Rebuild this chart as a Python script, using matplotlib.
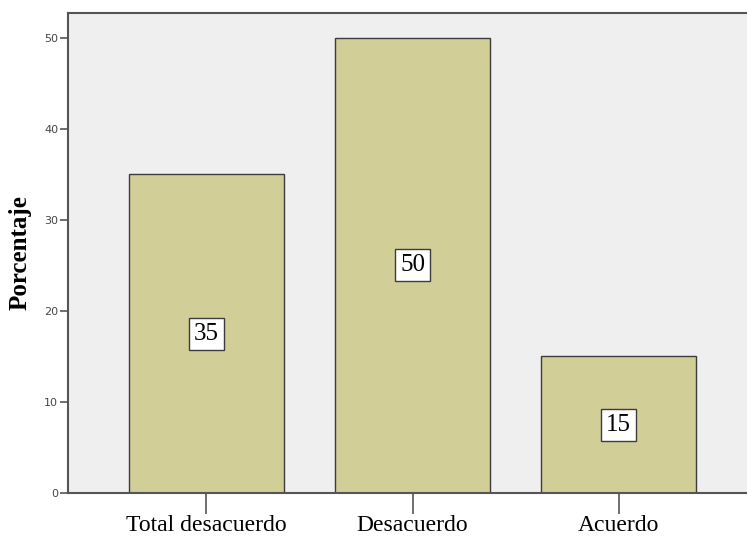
import matplotlib.pyplot as plt

categorias = ["Total desacuerdo", "Desacuerdo", "Acuerdo"]
porcentajes = [35, 50, 15]
yticks = [0, 10, 20, 30, 40, 50]

fig = plt.figure(figsize=(7.47, 5.38), dpi=100)
ax = fig.add_axes([0.091, 0.0836, 0.915, 0.8922])
ax.set_facecolor("#efefef")

x = list(range(len(categorias)))
ax.bar(x, porcentajes, width=0.752, color="#d2ce98", edgecolor="#3c3c3c", linewidth=1.0, zorder=2)

# etiquetas con el valor en el centro de cada barra
for xi, v in zip(x, porcentajes):
    ax.text(xi, v / 2, str(v), ha="center", va="center", fontsize=18,
            family="Liberation Serif", color="black", zorder=3,
            bbox=dict(boxstyle="square,pad=0.2", facecolor="white", edgecolor="#3c3c3c", linewidth=1.0))

ax.set_xlim(-0.672, 2.645)
ax.set_ylim(0, 52.7)
ax.set_xticks(x)
ax.set_xticklabels(categorias, family="Liberation Serif", fontsize=17)
ax.set_yticks(yticks)
ax.tick_params(axis="y", length=6, width=1.2, color="#555555", labelsize=8, labelcolor="#444444", pad=1)
ax.tick_params(axis="x", length=15, width=1.2, color="#555555", pad=1)

for s in ["left", "top", "bottom"]:
    ax.spines[s].set_color("#555555")
    ax.spines[s].set_linewidth(1.5)
ax.spines["right"].set_visible(False)

fig.text(20 / 747, 1 - 253 / 538, "Porcentaje", rotation=90, ha="center", va="center",
         family="Liberation Serif", fontsize=18, fontweight="bold")

fig.savefig("out.png", dpi=100)
